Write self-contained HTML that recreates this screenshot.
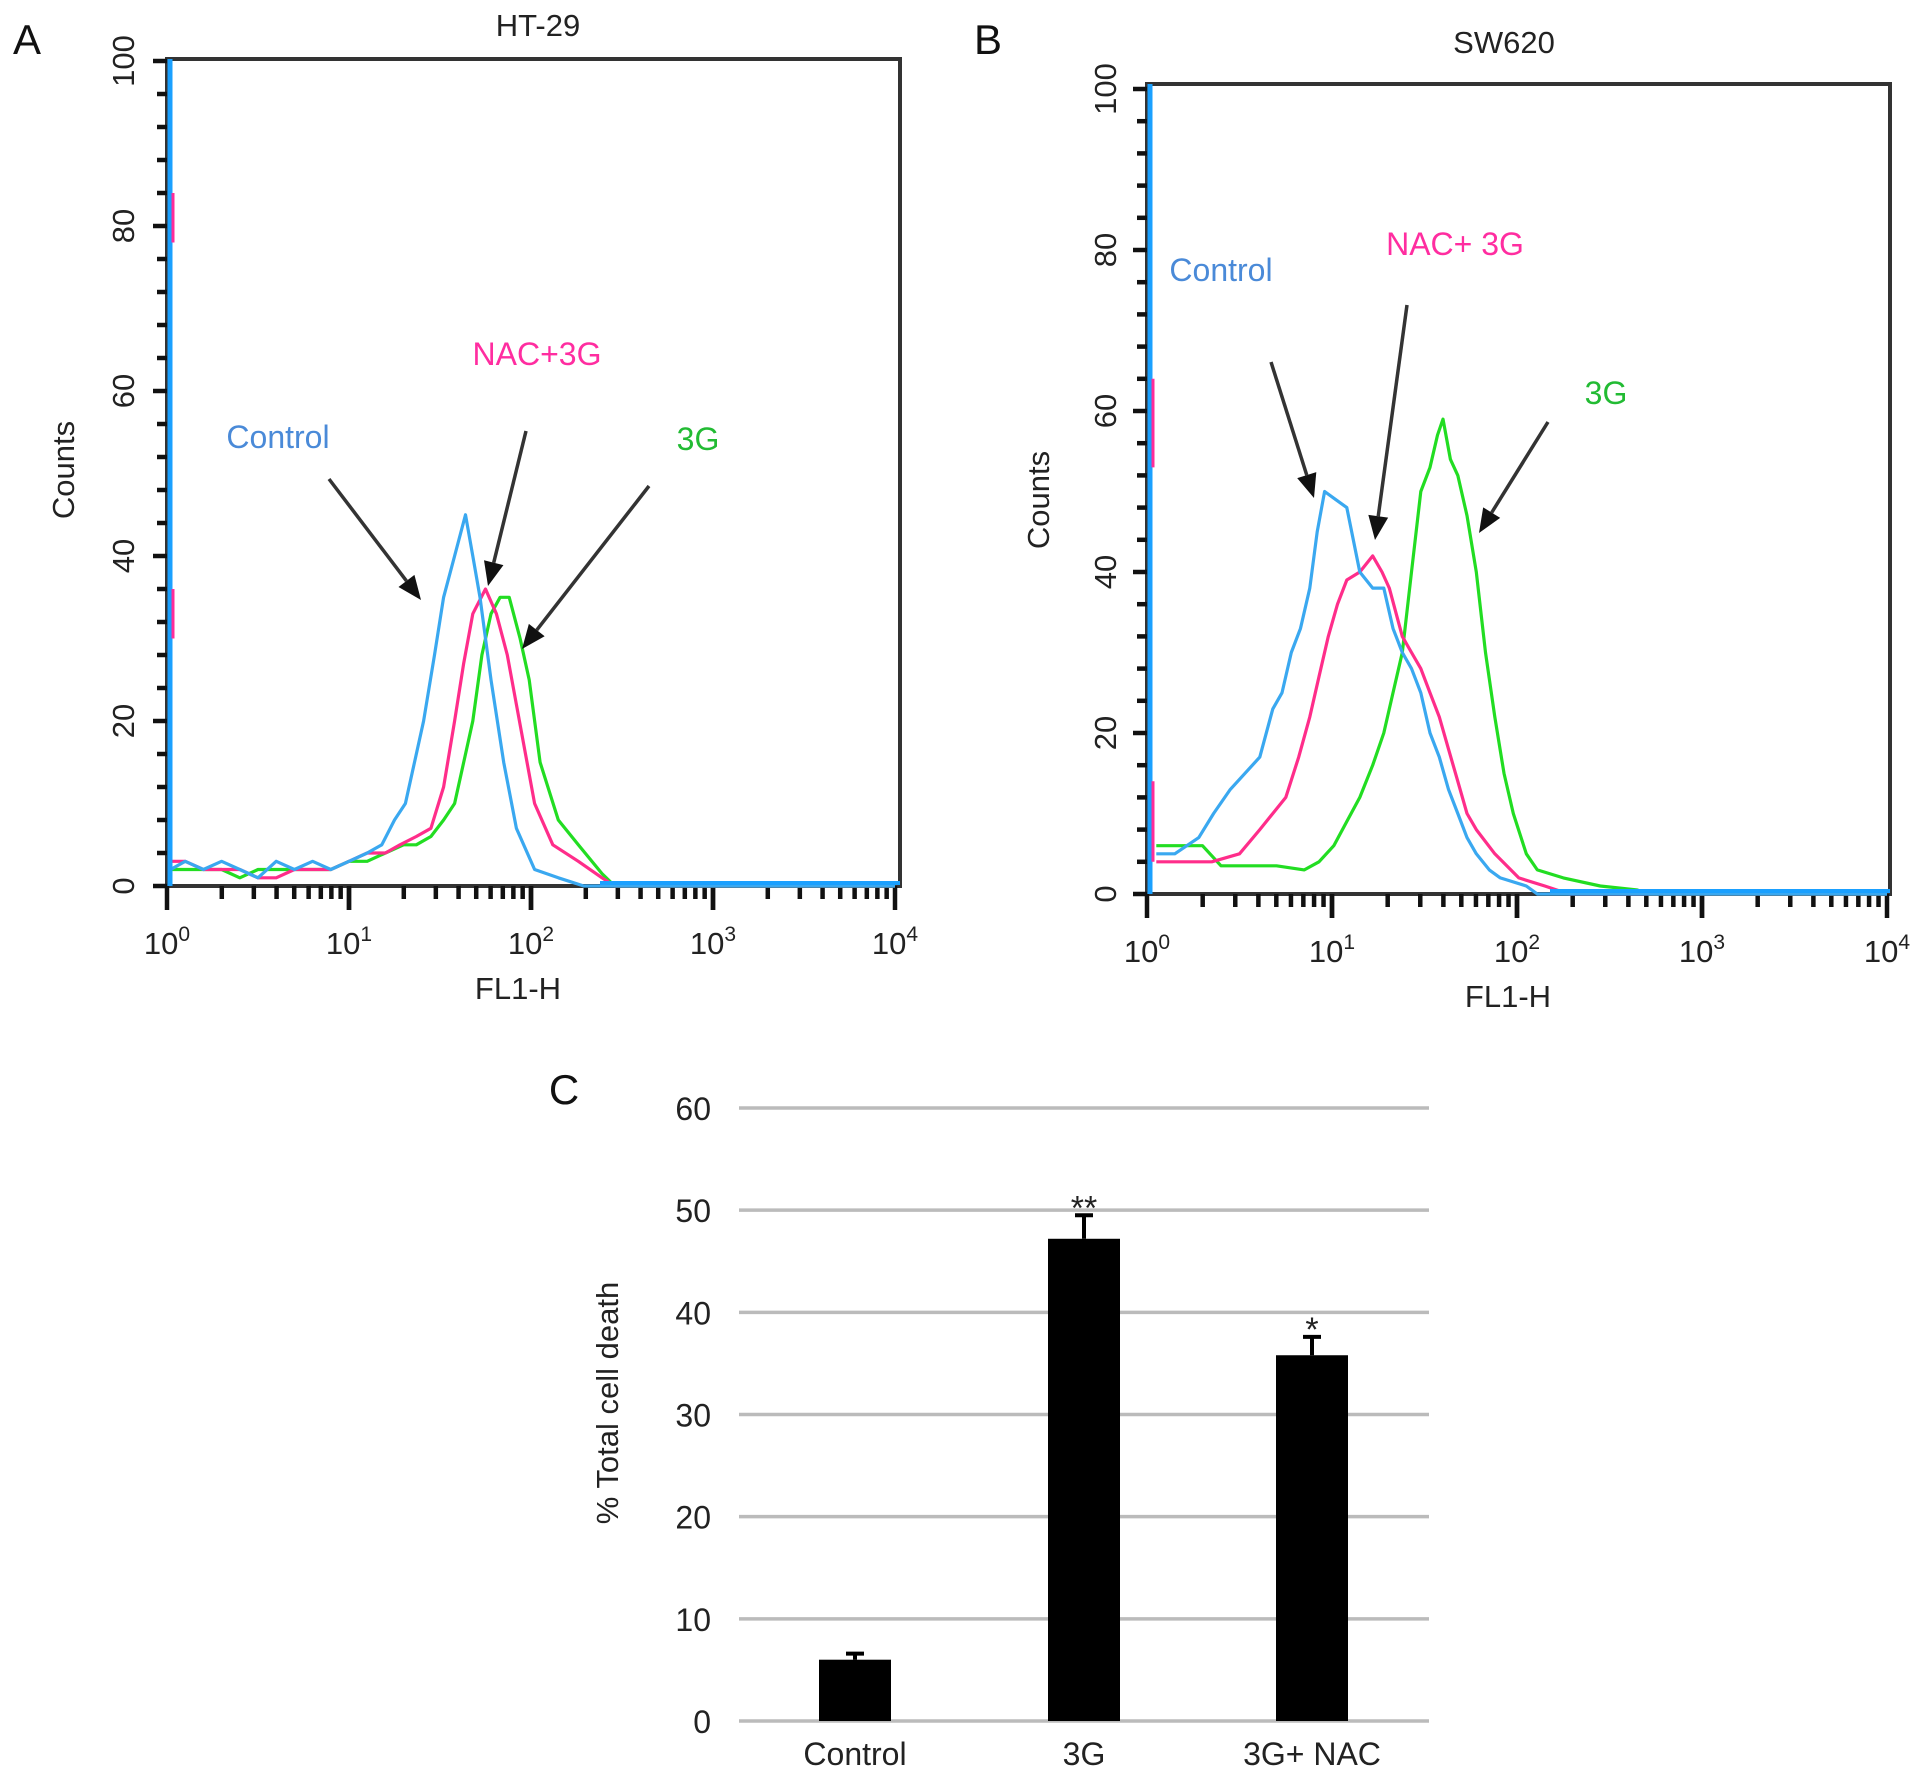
<!DOCTYPE html>
<html><head><meta charset="utf-8"><style>
body{margin:0;background:#fff}
svg{display:block;font-family:"Liberation Sans",Arial,sans-serif}
</style></head><body>
<svg id="fig" width="1913" height="1777" viewBox="0 0 1913 1777" xmlns="http://www.w3.org/2000/svg">
<g id="gA"></g>
<g id="gB"></g>
<g id="gC"></g>
</svg>
<script>
// Panel A data (x = log10 FL1-H, y = counts)
const aCtrlX=[0.02,0.1,0.2,0.3,0.4,0.5,0.6,0.7,0.8,0.9,1.0,1.1,1.18,1.25,1.31,1.36,1.41,1.47,1.52,1.58,1.64,1.68,1.72,1.78,1.85,1.92,2.02,2.15,2.29,2.4,4];
const aCtrlY=[2,3,2,3,2,1,3,2,3,2,3,4,5,8,10,15,20,28,35,40,45,40,35,25,15,7,2,1,0,0,0];
const aNacX=[0.02,0.1,0.2,0.3,0.4,0.5,0.6,0.7,0.8,0.9,1.0,1.1,1.2,1.28,1.37,1.45,1.52,1.58,1.63,1.68,1.75,1.81,1.87,1.92,2.02,2.12,2.26,2.39,2.46,4];
const aNacY=[3,3,2,2,2,1,1,2,2,2,3,4,4,5,6,7,12,20,27,33,36,33,28,22,10,5,3,1,0,0];
const aGX=[0.02,0.1,0.2,0.3,0.4,0.5,0.6,0.7,0.8,0.9,1.0,1.1,1.2,1.3,1.37,1.45,1.52,1.58,1.63,1.68,1.73,1.78,1.83,1.88,1.94,1.99,2.05,2.15,2.26,2.39,2.46,4];
const aGY=[2,2,2,2,1,2,2,2,2,2,3,3,4,5,5,6,8,10,15,20,28,33,35,35,30,25,15,8,5,1.5,0,0];
// Panel B data
const bCtrlX=[0.05,0.15,0.28,0.36,0.45,0.53,0.61,0.68,0.73,0.78,0.83,0.88,0.92,0.96,1.02,1.08,1.15,1.22,1.28,1.33,1.38,1.43,1.48,1.53,1.58,1.63,1.68,1.73,1.78,1.85,1.91,2.05,2.11,4];
const bCtrlY=[5,5,7,10,13,15,17,23,25,30,33,38,45,50,49,48,40,38,38,33,30,28,25,20,17,13,10,7,5,3,2,1,0,0];
const bNacX=[0.05,0.2,0.35,0.5,0.61,0.68,0.75,0.82,0.88,0.93,0.98,1.03,1.08,1.15,1.22,1.27,1.31,1.38,1.43,1.48,1.53,1.58,1.63,1.68,1.73,1.78,1.88,2.01,2.15,2.28,4];
const bNacY=[4,4,4,5,8,10,12,17,22,27,32,36,39,40,42,40,38,32,30,28,25,22,18,14,10,8,5,2,1,0,0];
const bGX=[0.05,0.2,0.3,0.4,0.55,0.7,0.85,0.93,1.01,1.08,1.15,1.22,1.28,1.33,1.38,1.43,1.48,1.53,1.57,1.6,1.64,1.68,1.73,1.78,1.83,1.88,1.93,1.98,2.05,2.11,2.25,2.45,2.65,2.71,4];
const bGY=[6,6,6,3.5,3.5,3.5,3,4,6,9,12,16,20,25,30,40,50,53,57,59,54,52,47,40,30,22,15,10,5,3,2,1,0.5,0,0];
// Panel C data
const cCats=["Control","3G","3G+ NAC"];
const cVals=[6.0,47.2,35.8];
const cErr=[0.6,2.3,1.8];
const cSig=["","**","*"];
const cTicks=[0,10,20,30,40,50,60];
const histTicks=[0,20,40,60,80,100];
const histSup=["0","1","2","3","4"];

const NS="http://www.w3.org/2000/svg";
function mk(parent,tag,attrs,text){const e=document.createElementNS(NS,tag);for(const k in attrs)e.setAttribute(k,attrs[k]);if(text!==undefined)e.textContent=text;parent.appendChild(e);return e;}

function histPanel(g,P){
  const sx=v=>P.x0+(P.x4-P.x0)*v/4;
  const sy=v=>P.y0-(P.y0-P.y100)*v/100;
  const box=mk(g,'rect',{x:P.x0,y:P.top,width:P.right-P.x0,height:P.y0-P.top,fill:'none',stroke:'#333',"stroke-width":4});
  
  for(let v=0;v<=100;v+=4){const t=mk(g,'line',{x1:P.x0-(v%20===0?14:10),x2:P.x0,y1:sy(v),y2:sy(v),stroke:'#111',"stroke-width":4.5});
    }
  histTicks.forEach(v=>{const x=P.ylx,y=sy(v);
    const t=mk(g,'text',{x:x,y:y,transform:`rotate(-90 ${x} ${y})`,"text-anchor":"middle","font-size":31,fill:'#222'},String(v));
    });
  for(let d=0;d<4;d++){for(let m=1;m<=10;m++){const x=sx(d+Math.log10(m));
    const major=(m===1||m===10);
    const t=mk(g,'line',{x1:x,x2:x,y1:P.y0,y2:P.y0+(major?24:13),stroke:'#111',"stroke-width":4.5});
    }}
  histSup.forEach((s,i)=>{const t=mk(g,'text',{x:sx(i),y:P.y0+68,"text-anchor":"middle","font-size":31,fill:'#222'});
    
    mk(t,'tspan',{},'10');mk(t,'tspan',{dy:-13,"font-size":21},s);});
  P.series.forEach(s=>{let d='';s.x.forEach((xv,i)=>{d+=(i?'L':'M')+sx(xv).toFixed(1)+' '+sy(s.y[i]).toFixed(1);});
    const p=mk(g,'path',{d:d,fill:'none',stroke:s.c,"stroke-width":3.2,"stroke-linejoin":"round"});
    });
  const bl=mk(g,'line',{x1:P.x0+3,x2:P.x0+3,y1:P.top,y2:P.y0,stroke:'#1aa0ff',"stroke-width":5});
  
  const bb=mk(g,'line',{x1:P.bx,x2:P.right,y1:P.y0-3,y2:P.y0-3,stroke:'#1aa0ff',"stroke-width":4});
  
  P.mag.forEach(m=>{const l=mk(g,'line',{x1:P.x0+6,x2:P.x0+6,y1:sy(m[0]),y2:sy(m[1]),stroke:'#ff2d9a',"stroke-width":3});
    });
}

const A=document.getElementById('gA'),B=document.getElementById('gB'),C=document.getElementById('gC');
histPanel(A,{x0:167,x4:895,right:900,top:59,y0:886,y100:61,ylx:134,bx:600,mag:[[78,84],[30,36]],
  series:[{x:aGX,y:aGY,c:'#22dd22',n:'series-3g'},{x:aNacX,y:aNacY,c:'#ff2d8a',n:'series-nac-3g'},{x:aCtrlX,y:aCtrlY,c:'#3aa8f0',n:'series-control'}]});
histPanel(B,{x0:1147,x4:1887,right:1890,top:84,y0:894,y100:89,ylx:1116,bx:1550,mag:[[53,64],[4,14]],
  series:[{x:bGX,y:bGY,c:'#22dd22',n:'series-3g'},{x:bNacX,y:bNacY,c:'#ff2d8a',n:'series-nac-3g'},{x:bCtrlX,y:bCtrlY,c:'#3aa8f0',n:'series-control'}]});

function arrow(g,x1,y1,x2,y2){const a=Math.atan2(y2-y1,x2-x1),L=24,W=10;
  const bx=x2-L*Math.cos(a),by=y2-L*Math.sin(a);
  const l=mk(g,'line',{x1:x1,y1:y1,x2:bx,y2:by,stroke:'#333',"stroke-width":3.5});
  
  const p=mk(g,'polygon',{points:`${x2},${y2} ${bx-W*Math.sin(a)},${by+W*Math.cos(a)} ${bx+W*Math.sin(a)},${by-W*Math.cos(a)}`,fill:'#111'});
  }
function txt(g,x,y,s,size,fill,name,anchor,rot){const a={x:x,y:y,"font-size":size,fill:fill,"text-anchor":anchor||'middle'};if(rot)a.transform=`rotate(-90 ${x} ${y})`;
  const t=mk(g,'text',a,s);return t;}

arrow(A,329,479,421,600);arrow(A,526,431,488,586);arrow(A,649,486,522,649);
txt(A,27,54,'A',42,'#111','panel-label-a');
txt(A,538,36,'HT-29',31,'#222','title-ht29');
txt(A,278,448,'Control',32,'#4a8ad8','label-control');
txt(A,537,365,'NAC+3G',32,'#ff2da0','label-nac-3g');
txt(A,698,450,'3G',32,'#22bb33','label-3g');
txt(A,74,470,'Counts',31,'#222','y-axis-title',null,true);
txt(A,518,999,'FL1-H',31,'#222','x-axis-title');

arrow(B,1271,362,1314,498);arrow(B,1407,305,1375,540);arrow(B,1548,422,1479,533);
txt(B,988,54,'B',42,'#111','panel-label-b');
txt(B,1504,53,'SW620',31,'#222','title-sw620');
txt(B,1221,281,'Control',32,'#4a8ad8','label-control');
txt(B,1455,255,'NAC+  3G',32,'#ff2da0','label-nac-3g');
txt(B,1606,404,'3G',32,'#22bb33','label-3g');
txt(B,1049,500,'Counts',31,'#222','y-axis-title',null,true);
txt(B,1508,1007,'FL1-H',31,'#222','x-axis-title');

(function(){
  const y0=1721,y60=1108,xl=739,xr=1429;
  const sy=v=>y0-(y0-y60)*v/60;
  const cx=[855,1084,1312];
  cTicks.forEach(v=>{const l=mk(C,'line',{x1:xl,x2:xr,y1:sy(v),y2:sy(v),stroke:'#bbb',"stroke-width":3.5});
    
    txt(C,711,sy(v)+12,String(v),32,'#222','y-tick-label','end');});
  cVals.forEach((v,i)=>{const w=72;
    const r=mk(C,'rect',{x:cx[i]-w/2,y:sy(v),width:w,height:y0-sy(v),fill:'#000'});
    
    const e=mk(C,'path',{d:`M${cx[i]} ${sy(v)}V${sy(v+cErr[i])}M${cx[i]-9} ${sy(v+cErr[i])}H${cx[i]+9}`,stroke:'#000',"stroke-width":4,fill:'none'});
    
    if(cSig[i])txt(C,cx[i],sy(v+cErr[i])+4,cSig[i],34,'#222','significance-marker');
    txt(C,cx[i],1765,cCats[i],32,'#222','x-category-label');});
  txt(C,564,1104,'C',42,'#111','panel-label-c');
  txt(C,618,1403,'% Total cell death',31,'#222','y-axis-title',null,true);
})();
</script>
</body></html>
